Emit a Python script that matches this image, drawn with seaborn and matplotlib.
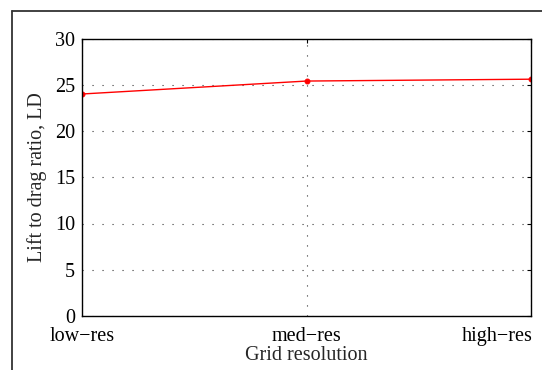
import matplotlib
matplotlib.use("Agg")
import matplotlib.pyplot as plt
from matplotlib.lines import Line2D
from matplotlib.transforms import ScaledTranslation
import seaborn as sns
import pandas as pd

grids = ["low\u2212res", "med\u2212res", "high\u2212res"]
lift_to_drag = [24.0, 25.4, 25.6]
y_ticks = [0, 5, 10, 15, 20, 25, 30]

sns.set_style("white")
plt.rcParams["font.family"] = ["Liberation Serif", "DejaVu Serif"]

df = pd.DataFrame({"pos": range(len(grids)), "LD": lift_to_drag})

fig = plt.figure(figsize=(5.42, 3.70), dpi=100)
ax = fig.add_axes([82 / 542, 1 - 316 / 370, (531 - 82) / 542, (316 - 38.5) / 370])

sns.lineplot(data=df, x="pos", y="LD", ax=ax, color="red", linewidth=1.0,
             marker="o", markersize=3.5, markeredgecolor="red", markerfacecolor="red")

ax.set_xlim(0, len(grids) - 1)
ax.set_ylim(y_ticks[0], y_ticks[-1])
ax.set_xticks(range(len(grids)))
ax.set_xticklabels(grids)
ax.set_yticks(y_ticks)

ax.grid(True, linestyle=(0, (1, 8)), color="black", linewidth=0.8, alpha=0.8)
ax.set_axisbelow(True)
for s in ax.spines.values():
    s.set_color("black")
    s.set_linewidth(1.0)
ax.tick_params(direction="in", length=3, width=0.8, labelsize=14.5, colors="black",
               top=True, right=True, pad=5)
ax.tick_params(axis="x", pad=8)

# keep the last category label inside the figure
labels = ax.get_xticklabels()
labels[-1].set_horizontalalignment("right")
labels[-1].set_transform(labels[-1].get_transform() + ScaledTranslation(2 / 100, 0, fig.dpi_scale_trans))

ax.set_xlabel("Grid resolution", fontsize=14.5, labelpad=0)
ax.set_ylabel("Lift to drag ratio, LD", fontsize=14.5, labelpad=6)

# outer frame (top and left edges)
fig.add_artist(Line2D([11.5 / 542, 1.0], [1 - 10.5 / 370, 1 - 10.5 / 370],
                      transform=fig.transFigure, color="#333333", linewidth=1.3))
fig.add_artist(Line2D([11.5 / 542, 11.5 / 542], [0.0, 1 - 10.5 / 370],
                      transform=fig.transFigure, color="#333333", linewidth=1.3))

fig.savefig("out.png", dpi=100)
